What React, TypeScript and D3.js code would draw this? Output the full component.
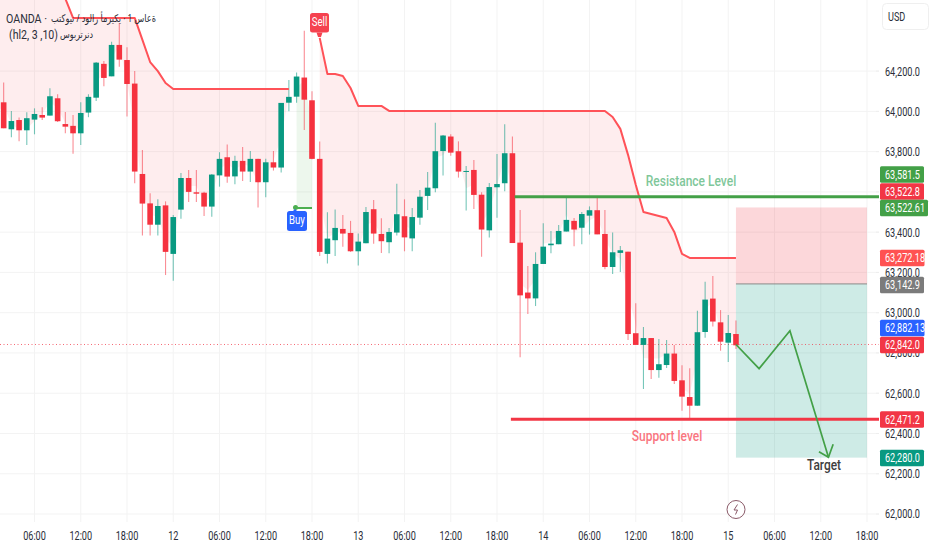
import React from "react";
import * as d3 from "d3";

// Hours counted from 00:00 on day 11; first bar is 01:00
const firstHour = 1;
const opens = [63900,64045,63911,63957,63906,63959,63982,63979,64065,63937,63928,
63891,63994,64068,64236,64174,64330,64255,64138,63689,63543,
63437,63533,63292,63512,63669,63598,63596,63527,63682,63772,
63677,63754,63701,63764,63648,63747,63721,64043,64073,64168,
64055,63764,63292,63360,63416,63396,63305,63345,63514,63391,
63350,63398,63479,63369,63472,63580,63618,63803,63875,63802,
63701,63709,63586,63409,63623,63643,63792,63348,63100,63071,
63242,63335,63340,63403,63456,63422,63482,63509,63391,63227,
63297,63303,62898,62840,62874,62715,62740,62797,62664,62581,
62538,62904,63070,62952,62851,62894];
const closes = [64040,63916,63952,63906,63966,63987,63969,64075,63951,63924,63891,
63992,64072,64242,64166,64330,64257,64136,63701,63542,63437,
63530,63302,63475,63669,63600,63591,63527,63686,63764,63676,
63754,63701,63764,63648,63747,63721,64042,64072,64173,64058,
63764,63302,63368,63421,63393,63305,63353,63500,63393,63355,
63401,63489,63374,63475,63576,63621,63802,63880,63795,63701,
63704,63585,63413,63624,63639,63792,63346,63086,63071,63242,
63328,63343,63406,63461,63413,63490,63509,63389,63227,63300,
63310,62894,62840,62874,62715,62744,62797,62661,62583,62538,
62903,63065,62956,62856,62899,62838];
const highs = [64100,64143,64002,63969,63995,64015,64020,64115,64085,63997,63982,
64045,64085,64245,64250,64346,64438,64318,64201,63808,63593,
63563,63553,63485,63694,63709,63709,63601,63689,63797,63836,
63780,63823,63803,63764,63765,63803,64042,64156,64193,64401,
64100,63850,63499,63513,63485,63456,63393,63525,63560,63469,
63421,63641,63563,63520,63610,63699,63944,63883,63886,63851,
63729,63759,63598,63644,63788,63936,63875,63510,63232,63300,
63444,63406,63436,63576,63470,63500,63528,63571,63510,63398,
63331,63303,63047,62929,62874,62869,62864,62840,62739,62724,
63009,63154,63182,63013,62989,62961];
const lows = [63880,63916,63871,63851,63833,63886,63957,63979,63947,63891,63790,
63833,63971,64052,64125,64174,64222,63974,63643,63384,63384,
63384,63187,63159,63467,63550,63550,63480,63477,63626,63646,
63638,63654,63649,63522,63573,63706,63696,64001,64043,63908,
63762,63282,63244,63282,63328,63302,63234,63345,63343,63297,
63295,63384,63305,63305,63437,63510,63598,63681,63780,63671,
63507,63515,63278,63373,63472,63603,63346,62778,62994,63033,
63242,63295,63340,63403,63330,63340,63388,63389,63216,63192,
63202,62864,62840,62621,62671,62677,62725,62646,62513,62467,
62538,62876,62931,62811,62755,62820];

// Supertrend
const bearOneHours = d3.range(1, 40);
const bearOne = [64800,64800,64800,64800,64800,64800,64800,64800,64640,64560,
64464,64464,64464,64464,64464,64464,64464,64464,64464,
64355,64245,64200,64141,
64111,64111,64111,64111,64111,64111,64111,64111,64111,64111,64111,64111,64111,64111,64111,64111];
const bullHours = [40, 41, 42];
const bull = [63520, 63520, 63520];
const bearTwoHours = d3.range(43, 98);
const bearTwo = [64365,64186,64186,64176,64116,64027,64027,64027,64027,
64002,64002,64002,64002,64002,64002,64002,64002,64002,64002,64002,64002,64002,64002,64002,
64002,64002,64002,64002,64002,64002,64002,64002,64002,64002,64002,64002,64002,64002,
63972,63913,63784,63635,63500,63490,63480,63470,63401,63292,
63272,63272,63272,63272,63272,63272,63272];

const priceTicks = [64200,64000,63800,63600,63400,63200,63000,62800,62600,62400,62200,62000];
const timeHours = [6,12,18,24,30,36,42,48,54,60,66,72,78,84,90,96,102,108,114];
const timeLabels = ["06:00","12:00","18:00","12","06:00","12:00","18:00","13","06:00","12:00","18:00","14","06:00","12:00","18:00","15","06:00","12:00","18:00"];

const tagLabels = ["63,581.5","63,522.8","63,522.61","63,272.18","63,142.9","62,882.13","62,842.0","62,471.2","62,280.0"];
const tagFills = ["#43a047","#f23645","#43a047","#ff5252","#7b7b7b","#2962ff","#f23645","#f23645","#089981"];

const resistancePrice = 63576;
const supportPrice = 62471.2;
const lastPrice = 62842;
const stopPrice = 63522.61;
const entryPrice = 63142.9;
const targetPrice = 62280;
const boxStartHour = 97;
const boxEndHour = 114;
const pathHours = [97, 100, 104, 109];
const pathPrices = [62842, 62722, 62910, 62282];

const W = 932, H = 550, paneRight = 879;
const UP = "#089981", DOWN = "#f5323f", LINE = "#ff5258", GRID = "#f3f3f3", TEXT = "#2a2e39";
const FONT = "Roboto, sans-serif";
const ARABIC = "'Noto Sans', 'DejaVu Sans', sans-serif";

const x = d3.scaleLinear().domain([6, 114]).range([34.5, 867]);
const y = d3.scaleLinear().domain([62000, 64200]).range([514, 71.1]);

const hours = opens.map((_, i) => firstHour + i);
const mid = (h: number) => (highs[h - firstHour] + lows[h - firstHour]) / 2;

function Narrow({ x: tx, y: ty, size = 12, k = 0.76, anchor = "start", fill = TEXT, weight = 400, children }: any) {
  return (
    <text transform={`translate(${tx},${ty}) scale(${k},1)`} fontSize={size} fontFamily={FONT} fill={fill}
      fontWeight={weight} textAnchor={anchor} dominantBaseline="central">{children}</text>
  );
}

function Fit({ x: tx, y: ty, w, size, font = FONT, children }: any) {
  return (
    <text x={tx} y={ty} fontSize={size} fontFamily={font} fill={TEXT} textLength={w} lengthAdjust="spacingAndGlyphs"
      style={{ direction: "ltr", unicodeBidi: "bidi-override" }}>{children}</text>
  );
}

function Band({ hs, vals, fill }: { hs: number[]; vals: number[]; fill: string }) {
  const a = d3.area<number>().x(h => x(h)).y0((_, i) => y(vals[i])).y1(h => y(mid(h)));
  return <path d={a(hs) ?? ""} fill={fill} stroke="none" />;
}

function Trend({ hs, vals, color }: { hs: number[]; vals: number[]; color: string }) {
  const l = d3.line<number>().x(h => x(h)).y((_, i) => y(vals[i]));
  return <path d={l(hs) ?? ""} fill="none" stroke={color} strokeWidth={2} strokeLinejoin="round" />;
}

export default function App() {
  const tagY = [174.5, 191.5, 208, 258, 285, 328, 345, 419.5, 458];
  const bw = 5.6;
  const pathLine = d3.line<number>().x(h => x(h)).y((_, i) => y(pathPrices[i]));
  const tip = { x: x(pathHours[3]), y: y(pathPrices[3]) };
  return (
    <svg width={W} height={H} viewBox={`0 0 ${W} ${H}`}
      style={{ position: "absolute", left: 0, top: 0, background: "#fff", display: "block" }}>
      <defs>
        <clipPath id="pane"><rect x={0} y={0} width={paneRight} height={522} /></clipPath>
      </defs>
      {priceTicks.map(p => <line key={p} x1={0} x2={paneRight} y1={y(p)} y2={y(p)} stroke={GRID} strokeWidth={1} />)}
      {timeHours.map((h, i) => <line key={i} x1={x(h)} x2={x(h)} y1={0} y2={522} stroke={GRID} strokeWidth={1} />)}

      <g clipPath="url(#pane)">
        <Band hs={bearOneHours} vals={bearOne} fill="rgba(242,54,69,0.09)" />
        <Band hs={bullHours} vals={bull} fill="rgba(76,175,80,0.1)" />
        <Band hs={bearTwoHours} vals={bearTwo} fill="rgba(242,54,69,0.09)" />

        <rect x={x(boxStartHour)} width={x(boxEndHour) - x(boxStartHour)} y={y(stopPrice)} height={y(entryPrice) - y(stopPrice)} fill="rgba(242,54,69,0.2)" />
        <rect x={x(boxStartHour)} width={x(boxEndHour) - x(boxStartHour)} y={y(entryPrice)} height={y(targetPrice) - y(entryPrice)} fill="rgba(8,153,129,0.2)" />
        <line x1={x(boxStartHour)} x2={x(boxEndHour)} y1={y(entryPrice)} y2={y(entryPrice)} stroke="#8a8a8a" strokeWidth={1} />

        <line x1={0} x2={paneRight} y1={y(lastPrice)} y2={y(lastPrice)} stroke="#f23645" strokeOpacity={0.75} strokeWidth={1} strokeDasharray="1 2.5" />

        {hours.map((h, i) => {
          const up = closes[i] >= opens[i];
          const c = up ? UP : DOWN;
          const top = y(Math.max(opens[i], closes[i]));
          const bot = y(Math.min(opens[i], closes[i]));
          return (
            <g key={h}>
              <line x1={x(h)} x2={x(h)} y1={y(highs[i])} y2={y(lows[i])} stroke={c} strokeOpacity={0.55} strokeWidth={1.1} />
              <rect x={x(h) - bw / 2} width={bw} y={top} height={Math.max(bot - top, 1)} fill={c} />
            </g>
          );
        })}

        <Trend hs={bearOneHours} vals={bearOne} color={LINE} />
        <Trend hs={bullHours} vals={bull} color="#4caf50" />
        <Trend hs={bearTwoHours} vals={bearTwo} color={LINE} />

        <line x1={x(68.3)} x2={paneRight} y1={y(resistancePrice)} y2={y(resistancePrice)} stroke="#43a047" strokeWidth={3} />
        <line x1={x(67.8)} x2={paneRight} y1={y(supportPrice)} y2={y(supportPrice)} stroke="#f23645" strokeWidth={3} />

        <path d={pathLine(pathHours) ?? ""} fill="none" stroke="#43a047" strokeWidth={1.7} />
        <path d={`M${tip.x - 9.5},${tip.y - 5.5}L${tip.x},${tip.y}L${tip.x + 4.7},${tip.y - 13}`} fill="none" stroke="#43a047" strokeWidth={1.7} />
      </g>

      {/* Buy / Sell markers */}
      <circle cx={295.5} cy={207.5} r={2.5} fill="#4caf50" />
      <path d="M295,209l3,3h-6z" fill="#2962ff" />
      <rect x={287} y={211} width={20} height={20} rx={2.5} fill="#2962ff" />
      <Narrow x={297} y={220.5} anchor="middle" size={12} k={0.8} fill="#fff">Buy</Narrow>
      <rect x={310} y={13} width={19} height={19.5} rx={2.5} fill="#f5424f" />
      <path d="M316.5,32.5h6l-1.5,4.5h-3z" fill="#f5424f" />
      <Narrow x={319.5} y={22} anchor="middle" size={12} k={0.8} fill="#fff">Sell</Narrow>

      {/* Drawing labels */}
      <Narrow x={691} y={180} anchor="middle" size={15} k={0.8} fill="#7fc79a" weight={500}>Resistance Level</Narrow>
      <Narrow x={667} y={435.5} anchor="middle" size={15} k={0.8} fill="#f9767f" weight={500}>Support level</Narrow>
      <Narrow x={824} y={465} anchor="middle" size={14} k={0.85} fill="#3d3d3d" weight={500}>Target</Narrow>

      {/* Header */}
      <Fit x={6} y={23} w={41} size={13}>OANDA ·</Fit>
      <Fit x={51} y={22} w={105} size={10.5} font={ARABIC}>بتكوين / دولار أمريكي · 1 ساعة</Fit>
      <Fit x={9} y={39} w={49} size={13}>(hl2, 3 ,10)</Fit>
      <Fit x={60} y={38} w={33} size={10.5} font={ARABIC}>سوبرترند</Fit>

      {/* Price axis */}
      {priceTicks.map(p => (
        <g key={p}>
          <line x1={paneRight - 3} x2={paneRight} y1={y(p)} y2={y(p)} stroke="#eee" />
          <Narrow x={885} y={y(p) + 0.5}>{d3.format(",.1f")(p)}</Narrow>
        </g>
      ))}
      {tagLabels.map((t, i) => {
        const wide = t.length > 8;
        return (
          <g key={i}>
            <rect x={880} y={tagY[i] - 8.2} width={wide ? (i === 2 ? 48 : 44.5) : 44} height={16.4} rx={1.5} fill={tagFills[i]} />
            <Narrow x={885} y={tagY[i] + 0.5} fill="#fff">{t}</Narrow>
          </g>
        );
      })}
      <rect x={882.5} y={3.5} width={46} height={26} rx={4} fill="#fff" stroke="#efefef" />
      <Narrow x={888} y={17} fill={TEXT}>USD</Narrow>

      {/* Time axis */}
      {timeHours.map((h, i) => (
        <Narrow key={i} x={x(h)} y={536} anchor="middle">{timeLabels[i]}</Narrow>
      ))}

      {/* Lightning badge */}
      <circle cx={736} cy={509.5} r={9} fill="#fff" stroke="#8a5a68" strokeWidth={1} />
      <path d="M737.5,504.5l-3.5,5.5h3.5l-2,4.5" fill="none" stroke="#8a5a68" strokeWidth={1} />
    </svg>
  );
}
